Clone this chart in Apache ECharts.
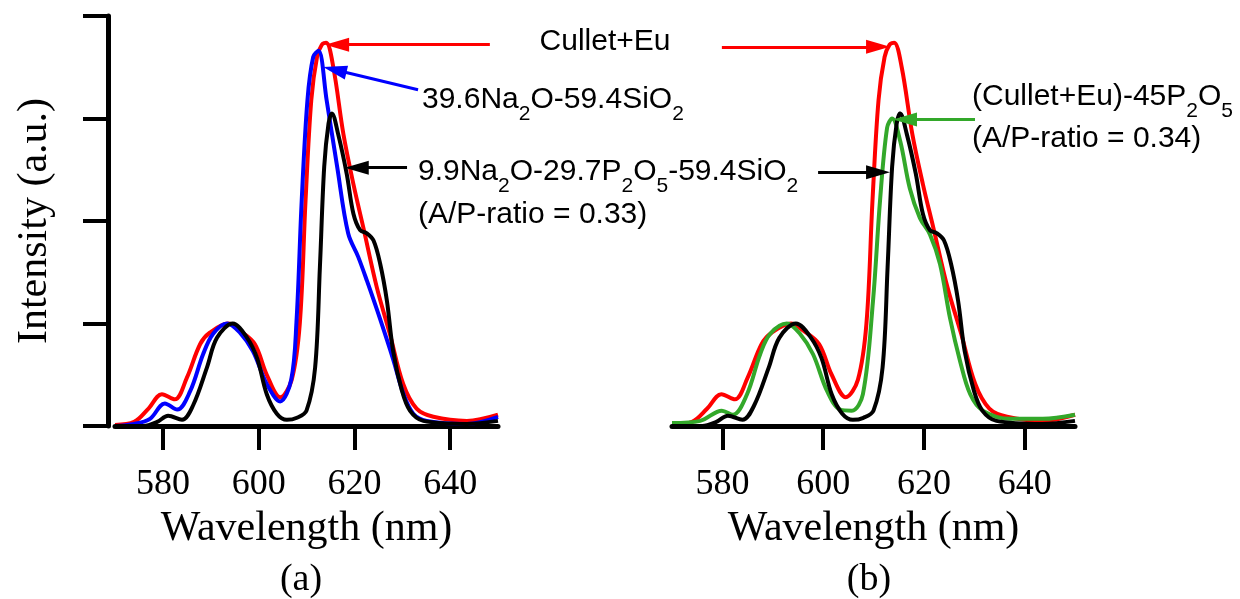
<!DOCTYPE html>
<html>
<head>
<meta charset="utf-8">
<title>Eu emission spectra</title>
<script src="https://cdn.jsdelivr.net/npm/echarts@6.0.0/dist/echarts.min.js"></script>
<style>
  html, body { margin: 0; padding: 0; background: #fff; }
  #chart { width: 1240px; height: 599px; }
</style>
</head>
<body>
<div id="chart"></div>
<script>
// wavelength (nm) / normalised intensity
const redWl = [570, 574, 577, 579.8, 582.5, 585.0, 587.8, 589.8, 593.6, 596.1, 599.2, 601.7, 604.5, 606.9, 608.6, 609.8, 611.0, 612.2, 613.2, 614.1, 615.6, 617.7, 619.8, 621.9, 624.7, 627.4, 630.2, 633.0, 636.5, 643.5, 650]
const redInt = [0.01, 0.04, 0.17, 0.31, 0.26, 0.47, 0.80, 0.91, 1.00, 0.93, 0.80, 0.50, 0.28, 0.45, 1.00, 2.20, 3.18, 3.60, 3.72, 3.74, 3.50, 2.85, 2.36, 1.93, 1.35, 0.90, 0.41, 0.17, 0.09, 0.05, 0.11]

const blueWl = [570, 574, 577.3, 580.4, 583.0, 585.7, 588.4, 590.5, 593.4, 596.1, 598.8, 601.7, 604.5, 606.8, 607.9, 609.0, 610.2, 611.4, 612.5, 614.2, 616.4, 618.7, 620.8, 622.6, 625.4, 628.1, 630.2, 632.3, 635.1, 643.5, 650]
const blueInt = [0.0, 0.02, 0.07, 0.22, 0.16, 0.34, 0.70, 0.90, 1.00, 0.91, 0.73, 0.41, 0.24, 0.45, 1.01, 2.20, 3.18, 3.60, 3.66, 3.18, 2.53, 1.88, 1.65, 1.42, 1.04, 0.65, 0.32, 0.12, 0.05, 0.02, 0.09]

const blackWl = [570, 576, 578.8, 581.1, 584.0, 586.3, 589.2, 591.3, 594.6, 597.6, 599.7, 601.7, 603.8, 605.9, 608.0, 610.0, 611.8, 612.8, 613.7, 614.6, 615.3, 616.6, 618.4, 619.8, 621.2, 622.6, 624.0, 625.4, 626.8, 628.1, 629.9, 631.6, 634.4, 643.5, 650]
const blackInt = [0.0, 0.0, 0.04, 0.10, 0.06, 0.20, 0.57, 0.86, 1.00, 0.86, 0.66, 0.31, 0.12, 0.06, 0.08, 0.15, 0.57, 1.55, 2.53, 2.95, 3.05, 2.85, 2.46, 2.07, 1.91, 1.88, 1.81, 1.58, 1.22, 0.73, 0.35, 0.15, 0.05, 0.02, 0.05]

const greenWl = [570, 575.6, 579.9, 582.1, 584.9, 587.5, 589.5, 592.8, 595.4, 598.0, 600.8, 603.4, 605.7, 607.9, 609.9, 611.3, 612.7, 613.7, 615.3, 617.2, 619.2, 621.2, 623.2, 625.2, 627.2, 629.2, 631.7, 637.1, 643.6, 650]
const greenInt = [0.03, 0.05, 0.15, 0.11, 0.31, 0.70, 0.90, 1.00, 0.90, 0.70, 0.34, 0.16, 0.15, 0.31, 1.22, 2.20, 2.91, 3.00, 2.78, 2.32, 2.03, 1.87, 1.58, 1.05, 0.63, 0.31, 0.15, 0.07, 0.07, 0.11]

const xTicks = [580, 600, 620, 640]

// annotation arrows [from, to] in data units
const arrowRedA = [[648.3, 3.72], [616.4, 3.72]]
const arrowBlueA = [[633.3, 3.28], [615.9, 3.475]]
const arrowBlackA = [[631.0, 2.52], [620.5, 2.52]]
const arrowRedB = [[579.9, 3.70], [610.9, 3.70]]
const arrowBlackB = [[599.0, 2.475], [610.9, 2.475]]
const arrowGreenB = [[630.15, 2.99], [616.25, 2.99]]

const SERIF = "'Liberation Serif', 'Times New Roman', serif"
const SANS = "'Liberation Sans', Arial, sans-serif"

const pairs = (xs, ys) => xs.map((x, i) => [x, ys[i]])

function curve(name, color, xs, ys, idx, arrow) {
  return {
    name: name,
    type: 'line',
    xAxisIndex: idx,
    yAxisIndex: idx,
    data: pairs(xs, ys),
    smooth: 0.35,
    showSymbol: false,
    symbol: 'none',
    lineStyle: { color: color, width: 4 },
    silent: true,
    markLine: {
      silent: true,
      symbol: ['none', 'triangle'],
      symbolSize: [14, 24],
      label: { show: false },
      emphasis: { disabled: true },
      lineStyle: { color: color, width: 3, type: 'solid' },
      data: [[{ coord: arrow[0] }, { coord: arrow[1] }]]
    }
  }
}

function xAxisFor(idx) {
  return {
    type: 'value',
    gridIndex: idx,
    min: 570,
    max: 650,
    name: 'Wavelength (nm)',
    nameLocation: 'middle',
    nameGap: 80,
    nameTextStyle: { fontFamily: SERIF, fontSize: 42, color: '#000' },
    axisLine: { show: true, onZero: false, lineStyle: { color: '#000', width: 5 } },
    axisTick: { show: true, length: 24, lineStyle: { color: '#000', width: 4 }, customValues: xTicks },
    axisLabel: { show: true, fontFamily: SERIF, fontSize: 36, color: '#000', margin: 41, customValues: xTicks },
    splitLine: { show: false }
  }
}

// subscript style: smaller digits pushed below the main line
const sub = { fontSize: 21, fontFamily: SANS, fill: '#000', padding: [28, 0, 0, 0] }

function label(x, y, text, align) {
  return {
    type: 'text',
    x: x,
    y: y,
    silent: true,
    style: {
      text: text,
      fontFamily: SANS,
      fontSize: 30,
      fill: '#000',
      align: align || 'left',
      verticalAlign: 'middle',
      textAlign: align || 'left',
      textVerticalAlign: 'middle',
      rich: { sub: sub }
    }
  }
}

function panelTag(x, y, text) {
  return {
    type: 'text', x: x, y: y, silent: true,
    style: {
      text: text, fontFamily: SERIF, fontSize: 38, fill: '#000',
      align: 'center', verticalAlign: 'middle', textAlign: 'center', textVerticalAlign: 'middle'
    }
  }
}

const chart = echarts.init(document.getElementById('chart'), null, { renderer: 'canvas' })

chart.setOption({
  animation: false,
  backgroundColor: '#fff',
  grid: [
    { left: 115, top: 16, width: 383, height: 410 },
    { left: 672, top: 16, width: 403, height: 410 }
  ],
  xAxis: [xAxisFor(0), xAxisFor(1)],
  yAxis: [
    {
      type: 'value',
      gridIndex: 0,
      min: 0,
      max: 4,
      interval: 1,
      offset: 7,
      name: 'Intensity (a.u.)',
      nameLocation: 'middle',
      nameGap: 52,
      nameTextStyle: { fontFamily: SERIF, fontSize: 42, color: '#000' },
      axisLine: { show: true, lineStyle: { color: '#000', width: 5 } },
      axisTick: { show: true, length: 25, lineStyle: { color: '#000', width: 4 } },
      axisLabel: { show: false },
      splitLine: { show: false }
    },
    {
      type: 'value',
      gridIndex: 1,
      min: 0,
      max: 4,
      interval: 1,
      show: false,
      splitLine: { show: false }
    }
  ],
  series: [
    curve('Cullet+Eu', '#ff0000', redWl, redInt, 0, arrowRedA),
    curve('39.6Na2O-59.4SiO2', '#0000ff', blueWl, blueInt, 0, arrowBlueA),
    curve('9.9Na2O-29.7P2O5-59.4SiO2', '#000000', blackWl, blackInt, 0, arrowBlackA),
    curve('Cullet+Eu', '#ff0000', redWl, redInt, 1, arrowRedB),
    curve('(Cullet+Eu)-45P2O5', '#33a82a', greenWl, greenInt, 1, arrowGreenB),
    curve('9.9Na2O-29.7P2O5-59.4SiO2', '#000000', blackWl, blackInt, 1, arrowBlackB)
  ],
  graphic: [
    label(605, 42, 'Cullet+Eu', 'center'),
    label(422, 100, '39.6Na{sub|2}O-59.4SiO{sub|2}'),
    label(418, 172, '9.9Na{sub|2}O-29.7P{sub|2}O{sub|5}-59.4SiO{sub|2}'),
    label(418, 215, '(A/P-ratio = 0.33)'),
    label(972, 97, '(Cullet+Eu)-45P{sub|2}O{sub|5}'),
    label(972, 139, '(A/P-ratio = 0.34)'),
    panelTag(301, 580, '(a)'),
    panelTag(869, 580, '(b)')
  ]
})
</script>
</body>
</html>
